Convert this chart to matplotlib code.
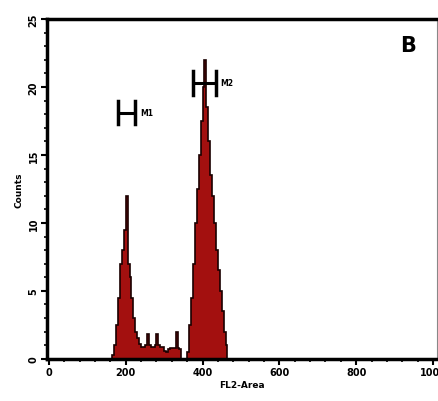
import numpy as np
import matplotlib
matplotlib.use("Agg")
import matplotlib.pyplot as plt
from matplotlib.ticker import MultipleLocator

# histogram of FL2-Area channel (5-channel bins starting at 160)
bin_edges = np.arange(160, 475, 5)
counts = [0, 0.3, 1.0, 2.5, 4.5, 7.0, 8.0, 9.5, 12.0, 7.0,
          6.0, 4.5, 3.0, 2.0, 1.5, 1.1, 0.9, 0.9, 1.0, 1.8,
          1.0, 0.9, 0.9, 1.0, 1.8, 1.0, 0.9, 0.9, 0.6, 0.5,
          0.7, 0.8, 0.8, 0.8, 2.0, 0.8, 0.7, 0, 0, 0,
          0.5, 2.5, 4.5, 7.0, 10.0, 12.5, 15.0, 17.5, 20.0, 22.0,
          18.5, 16.0, 13.5, 12.0, 10.0, 8.0, 6.5, 5.0, 3.5, 2.0,
          1.0, 0]

# gate markers: (name, start, end, height)
marker_names = ["M1", "M2"]
marker_start = [180, 376]
marker_end = [225, 434]
marker_level = [18.1, 20.3]

fig = plt.figure(figsize=(4.39, 4.02), dpi=100)
ax = fig.add_axes([0.107, 0.105, 0.888, 0.845])

ax.stairs(counts, bin_edges, fill=True, facecolor="#a3100f",
          edgecolor="#1a0000", linewidth=1.2)

for name, x0, x1, y in zip(marker_names, marker_start, marker_end, marker_level):
    ax.plot([x0, x1], [y, y], color="black", lw=2.2, solid_capstyle="butt")
    ax.plot([x0, x0], [y - 0.85, y + 0.85], color="black", lw=2.5)
    ax.plot([x1, x1], [y - 0.85, y + 0.85], color="black", lw=2.5)
    ax.text(x1 + 12, y, name, fontsize=5.5, fontweight="bold",
            va="center", ha="left")

ax.text(0.925, 0.925, "B", transform=ax.transAxes, fontsize=15,
        fontweight="bold", ha="center", va="center")

ax.set_xlim(-5, 1010)
ax.set_ylim(0, 25)
ax.xaxis.set_major_locator(MultipleLocator(200))
ax.xaxis.set_minor_locator(MultipleLocator(40))
ax.yaxis.set_major_locator(MultipleLocator(5))
ax.yaxis.set_minor_locator(MultipleLocator(1))
ax.tick_params(axis="both", which="major", direction="out", length=4,
               width=1.5, labelsize=7, pad=2)
ax.tick_params(axis="both", which="minor", direction="out", length=2.5,
               width=1.2)
for lab in ax.get_xticklabels():
    lab.set_fontweight("bold")
for lab in ax.get_yticklabels():
    lab.set_fontweight("bold")
    lab.set_rotation(90)
    lab.set_va("center")

for side in ["left", "bottom", "top"]:
    ax.spines[side].set_linewidth(2.5)
ax.spines["right"].set_linewidth(0.8)
ax.spines["right"].set_color("#888888")

ax.set_xlabel("FL2-Area", fontsize=6.5, fontweight="bold", labelpad=2)
ax.set_ylabel("Counts", fontsize=6.5, fontweight="bold", labelpad=4)

fig.savefig("out.png", dpi=100)
